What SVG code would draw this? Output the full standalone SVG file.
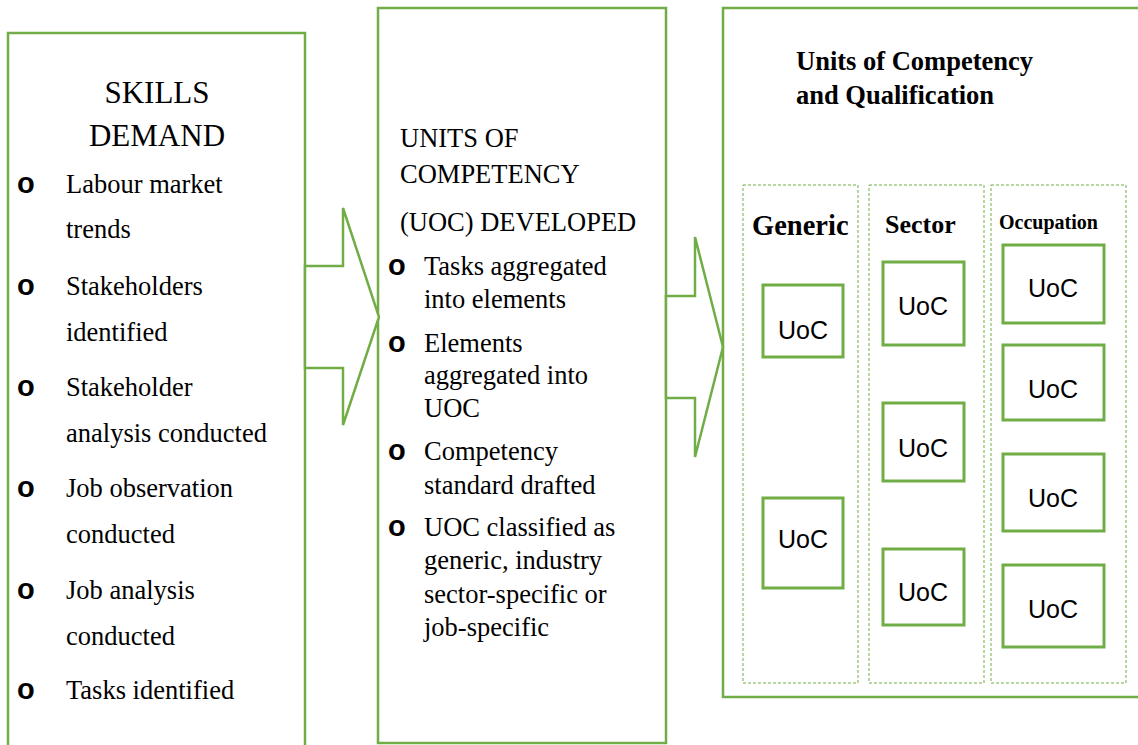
<svg xmlns="http://www.w3.org/2000/svg" width="1138" height="745" viewBox="0 0 1138 745">
<style>
.box{fill:none;stroke:#70AD47;stroke-width:2.5}
.col{fill:none;stroke:#70AD47;stroke-width:1;stroke-dasharray:3 2}
.uoc{fill:#fff;stroke:#70AD47;stroke-width:3}
.arrow{fill:#fff;stroke:#70AD47;stroke-width:2.5;stroke-linejoin:miter}
.t{font-family:"Liberation Serif","Times New Roman",serif;font-size:26.5px;fill:#000}
.h{font-family:"Liberation Serif","Times New Roman",serif;font-size:31px;fill:#000}
.b{font-family:"Liberation Sans",Arial,sans-serif;font-weight:bold;font-size:29px;fill:#000}
.tb{font-family:"Liberation Serif","Times New Roman",serif;font-weight:bold;fill:#000}
.u{font-family:"Liberation Sans",Arial,sans-serif;font-size:25px;fill:#000;text-anchor:middle}
</style>
<rect width="1138" height="745" fill="#fff"/>
<g id="skills-demand">
<rect class="box" x="8" y="33" width="297" height="740"/>
<text class="h" x="157" y="103" text-anchor="middle">SKILLS</text>
<text class="h" x="157" y="146" text-anchor="middle">DEMAND</text>
<text class="b" x="17" y="193">o</text>
<text class="t" x="66" y="193">Labour market</text>
<text class="t" x="66" y="238">trends</text>
<text class="b" x="17" y="295">o</text>
<text class="t" x="66" y="295">Stakeholders</text>
<text class="t" x="66" y="341">identified</text>
<text class="b" x="17" y="396">o</text>
<text class="t" x="66" y="396">Stakeholder</text>
<text class="t" x="66" y="442">analysis conducted</text>
<text class="b" x="17" y="497">o</text>
<text class="t" x="66" y="497">Job observation</text>
<text class="t" x="66" y="543">conducted</text>
<text class="b" x="17" y="599">o</text>
<text class="t" x="66" y="599">Job analysis</text>
<text class="t" x="66" y="645">conducted</text>
<text class="b" x="17" y="699">o</text>
<text class="t" x="66" y="699">Tasks identified</text>
</g>
<g id="uoc-developed">
<rect class="box" x="378" y="8" width="288" height="735"/>
<text class="t" x="400" y="147">UNITS OF</text>
<text class="t" x="400" y="183">COMPETENCY</text>
<text class="t" x="400" y="231">(UOC) DEVELOPED</text>
<text class="b" x="388" y="275">o</text>
<text class="t" x="424" y="275">Tasks aggregated</text>
<text class="t" x="424" y="308">into elements</text>
<text class="b" x="388" y="352">o</text>
<text class="t" x="424" y="352">Elements</text>
<text class="t" x="424" y="384">aggregated into</text>
<text class="t" x="424" y="417">UOC</text>
<text class="b" x="388" y="460">o</text>
<text class="t" x="424" y="460">Competency</text>
<text class="t" x="424" y="494">standard drafted</text>
<text class="b" x="388" y="536">o</text>
<text class="t" x="424" y="536">UOC classified as</text>
<text class="t" x="424" y="569">generic, industry</text>
<text class="t" x="424" y="603">sector-specific or</text>
<text class="t" x="424" y="636">job-specific</text>
</g>
<g id="connectors">
<polygon class="arrow" points="305,266 343,266 343,208 379,317 343,425 343,368 305,368"/>
<polygon class="arrow" points="666,296 695,296 695,237 723,347 695,457 695,398 666,398"/>
</g>
<g id="units-qualification">
<rect class="box" x="723" y="8" width="430" height="689"/>
<text class="tb" x="796" y="70" font-size="26.5">Units of Competency</text>
<text class="tb" x="796" y="104" font-size="26.5">and Qualification</text>
</g>
<g id="generic">
<rect class="col" x="743" y="185" width="115" height="498"/>
<text class="tb" x="752" y="235" font-size="28.5">Generic</text>
<rect class="uoc" x="763" y="285" width="80" height="72"/>
<text class="u" x="803" y="339">UoC</text>
<rect class="uoc" x="763" y="498" width="80" height="90"/>
<text class="u" x="803" y="548">UoC</text>
</g>
<g id="sector">
<rect class="col" x="869" y="185" width="115" height="498"/>
<text class="tb" x="885" y="233" font-size="26">Sector</text>
<rect class="uoc" x="883" y="262" width="81" height="83"/>
<text class="u" x="923" y="315">UoC</text>
<rect class="uoc" x="883" y="403" width="81" height="78"/>
<text class="u" x="923" y="457">UoC</text>
<rect class="uoc" x="883" y="549" width="81" height="76"/>
<text class="u" x="923" y="601">UoC</text>
</g>
<g id="occupation">
<rect class="col" x="991" y="185" width="135" height="498"/>
<text class="tb" x="999" y="229" font-size="20">Occupation</text>
<rect class="uoc" x="1003" y="245" width="101" height="78"/>
<text class="u" x="1053" y="297">UoC</text>
<rect class="uoc" x="1003" y="345" width="101" height="75"/>
<text class="u" x="1053" y="398">UoC</text>
<rect class="uoc" x="1003" y="454" width="101" height="77"/>
<text class="u" x="1053" y="507">UoC</text>
<rect class="uoc" x="1003" y="565" width="101" height="82"/>
<text class="u" x="1053" y="618">UoC</text>
</g>
</svg>
